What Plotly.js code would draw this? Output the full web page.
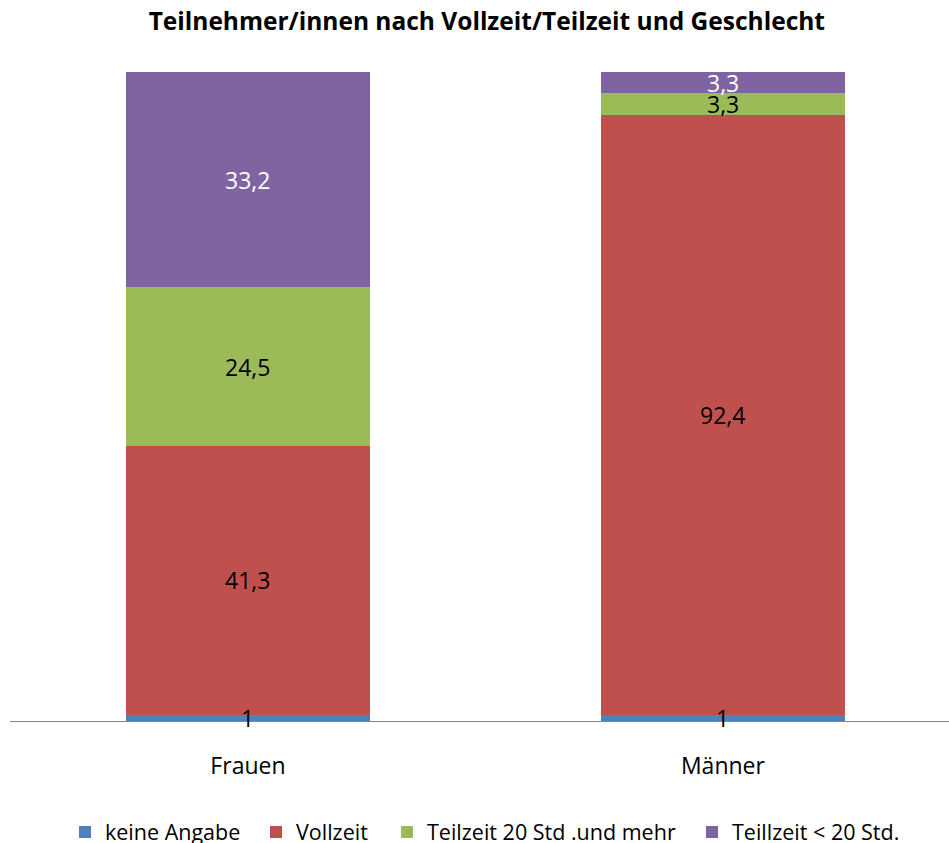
<!DOCTYPE html>
<html>
<head>
<meta charset="utf-8">
<script src="https://cdn.plot.ly/plotly-3.0.1.min.js"></script>
<style>html,body{margin:0;padding:0;background:#fff;}#chart{width:949px;height:843px;}</style>
</head>
<body>
<div id="chart"></div>
<script>
var categories = ["Frauen", "Männer"];
var seriesNames = ["keine Angabe", "Vollzeit", "Teilzeit 20 Std .und mehr", "Teillzeit < 20 Std."];
var keineAngabe = [1, 1];
var vollzeit = [41.3, 92.4];
var teilzeit20 = [24.5, 3.3];
var teilzeitUnter20 = [33.2, 3.3];
var colors = ["#4F81BD", "#C0504D", "#9BBB59", "#8064A2"];
var labelColors = ["#000000", "#000000", "#000000", "#FFFFFF"];
var FONT = "'Open Sans', 'Noto Sans', sans-serif";
var W = 949, H = 843;

var values = [keineAngabe, vollzeit, teilzeit20, teilzeitUnter20];
function fmt(v){ return String(v).replace('.', ','); }

var legendIds = ['legend', 'legend2', 'legend3', 'legend4'];
var legendLeft = [65, 256, 387, 692]; // left edge of each legend entry (px)

var traces = values.map(function(vals, i){
  return {
    type: 'bar',
    name: seriesNames[i],
    legend: legendIds[i],
    x: categories,
    y: vals,
    marker: {color: colors[i], line: {width: 0}},
    hoverinfo: 'none'
  };
});

// data labels, centred on each stacked segment
var annotations = [];
categories.forEach(function(cat, c){
  var base = 0;
  values.forEach(function(vals, i){
    var v = vals[c];
    annotations.push({
      x: cat, y: base + v / 2, xref: 'x', yref: 'y',
      text: fmt(v), showarrow: false,
      xanchor: 'center', yanchor: 'middle',
      font: {family: FONT, size: 23, color: labelColors[i]}
    });
    base += v;
  });
});

var layout = {
  width: W, height: H,
  margin: {l: 10, r: 0, t: 72, b: 122, autoexpand: false},
  paper_bgcolor: '#fff', plot_bgcolor: '#fff',
  barmode: 'stack',
  bargap: 0.486,
  showlegend: true,
  font: {family: FONT, size: 22, color: '#000'},
  title: {text: '<b>Teilnehmer/innen nach Vollzeit/Teilzeit und Geschlecht</b>', x: 0.513, xanchor: 'center', y: 0.975, yanchor: 'middle', font: {family: FONT, size: 24.5, color: '#000'}},
  xaxis: {
    type: 'category', range: [-0.501, 1.476],
    showline: true, linecolor: '#868686', linewidth: 1.3,
    ticks: '', showgrid: false, zeroline: false,
    ticklabelstandoff: 24,
    tickfont: {family: FONT, size: 23, color: '#000'}
  },
  yaxis: {range: [0, 100], visible: false, showgrid: false, zeroline: false, fixedrange: true},
  annotations: annotations
};

legendIds.forEach(function(id, i){
  layout[id] = {
    orientation: 'h', xref: 'container', yref: 'container',
    x: legendLeft[i] / W, xanchor: 'left', y: 0.013, yanchor: 'middle',
    font: {family: FONT, size: 21.5, color: '#000'}, itemwidth: 30,
    bgcolor: 'rgba(0,0,0,0)'
  };
});

Plotly.newPlot('chart', traces, layout, {displayModeBar: false, staticPlot: true});
</script>
</body>
</html>
